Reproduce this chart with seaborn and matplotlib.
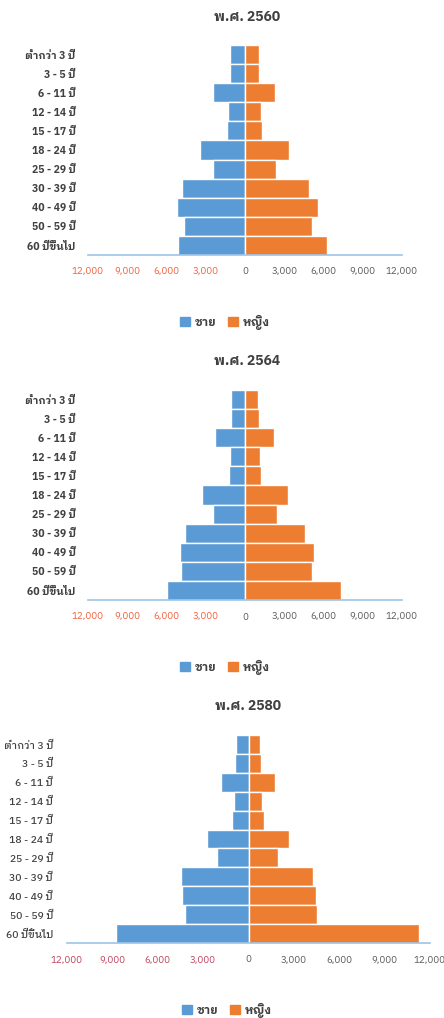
import matplotlib
matplotlib.use("Agg")
import matplotlib.pyplot as plt
from matplotlib.patches import Patch
import seaborn as sns
import pandas as pd

age_groups = ['ต่ำกว่า 3 ปี', '3 - 5 ปี', '6 - 11 ปี', '12 - 14 ปี', '15 - 17 ปี',
              '18 - 24 ปี', '25 - 29 ปี', '30 - 39 ปี', '40 - 49 ปี', '50 - 59 ปี',
              '60 ปีขึ้นไป']
years = ['พ.ศ. 2560', 'พ.ศ. 2564', 'พ.ศ. 2580']

male_2560 = [1150, 1150, 2420, 1300, 1350, 3440, 2420, 4800, 5200, 4640, 5100]
female_2560 = [1100, 1100, 2300, 1250, 1300, 3390, 2370, 4920, 5560, 5100, 6250]
male_2564 = [1070, 1100, 2270, 1170, 1250, 3320, 2470, 4570, 4950, 4870, 5950]
female_2564 = [1020, 1050, 2220, 1150, 1220, 3270, 2420, 4620, 5260, 5100, 7320]
male_2580 = [815, 860, 1850, 990, 1080, 2750, 2050, 4430, 4380, 4230, 8740]
female_2580 = [770, 815, 1760, 925, 1035, 2660, 1960, 4290, 4430, 4560, 11250]

x_ticks = [-12000, -9000, -6000, -3000, 0, 3000, 6000, 9000, 12000]
sexes = ['ชาย', 'หญิง']

sns.set_theme(style="white")
plt.rcParams['font.family'] = ['IBM Plex Sans Thai Looped', 'DejaVu Sans']

BLUE = '#5B9BD5'
ORANGE = '#ED7D31'

fig = plt.figure(figsize=(4.44, 10.18), dpi=100)
W, H = 444, 1018

# panel geometry in pixels: left, right, top, bottom(axis line), title y, legend y,
# title x, legend x, left tick colour, y-label pad, y-label weight
panels = [
    (88, 402, 45, 255, 17, 322, 247, 225, '#F0603C', 9, 'bold', male_2560, female_2560),
    (88, 402, 390, 600, 361, 667, 247, 225, '#F0603C', 9, 'bold', male_2564, female_2564),
    (67, 430, 735, 943, 706, 1010, 248, 227, '#C2405E', 10, 'medium', male_2580, female_2580),
]

for year, (l, r, t, b, ty, ly, tx, lx, lcol, ypad, ywt, male, female) in zip(years, panels):
    ax = fig.add_axes([l / W, 1 - b / H, (r - l) / W, (b - t) / H])
    df = pd.DataFrame({
        'age': age_groups * 2,
        'value': [-v for v in male] + list(female),
        'sex': [sexes[0]] * len(age_groups) + [sexes[1]] * len(age_groups),
    })
    sns.barplot(data=df, x='value', y='age', hue='sex', order=age_groups,
                palette=[BLUE, ORANGE], saturation=1, dodge=False, width=1.0,
                orient='h', edgecolor='white', linewidth=1.0, legend=False, ax=ax)
    ax.set_xlim(-12000, 12000)
    ax.set_ylim(len(age_groups) - 0.5, -0.5)
    ax.axvline(0, color='#BFBFBF', lw=0.8, zorder=0)
    for s in ['top', 'right', 'left']:
        ax.spines[s].set_visible(False)
    ax.spines['bottom'].set_color('#9DC3E6')
    ax.spines['bottom'].set_linewidth(1.2)
    ax.set_xticks(x_ticks)
    ax.set_xticklabels(['{:,}'.format(abs(v)) for v in x_ticks])
    ax.tick_params(axis='x', length=0, pad=9, labelsize=7, labelcolor='#595959')
    for lab, v in zip(ax.get_xticklabels(), x_ticks):
        if v < 0:
            lab.set_color(lcol)
    ax.tick_params(axis='y', length=0, pad=ypad, labelsize=7.5, labelcolor='#404040')
    for lab in ax.get_yticklabels():
        lab.set_fontweight(ywt)
    ax.set_xlabel('')
    ax.set_ylabel('')
    fig.text(tx / W, 1 - ty / H, year, ha='center', va='center', fontsize=10,
             fontweight='bold', color='#404040')
    handles = [Patch(color=BLUE, label=sexes[0]), Patch(color=ORANGE, label=sexes[1])]
    fig.legend(handles=handles, loc='center', bbox_to_anchor=(lx / W, 1 - ly / H),
               ncol=2, frameon=False, handlelength=0.8, handleheight=0.8,
               handletextpad=0.4, columnspacing=1.0,
               prop={'size': 8.5, 'weight': 'bold'}, labelcolor='#404040')

fig.savefig('out.png', dpi=100)
